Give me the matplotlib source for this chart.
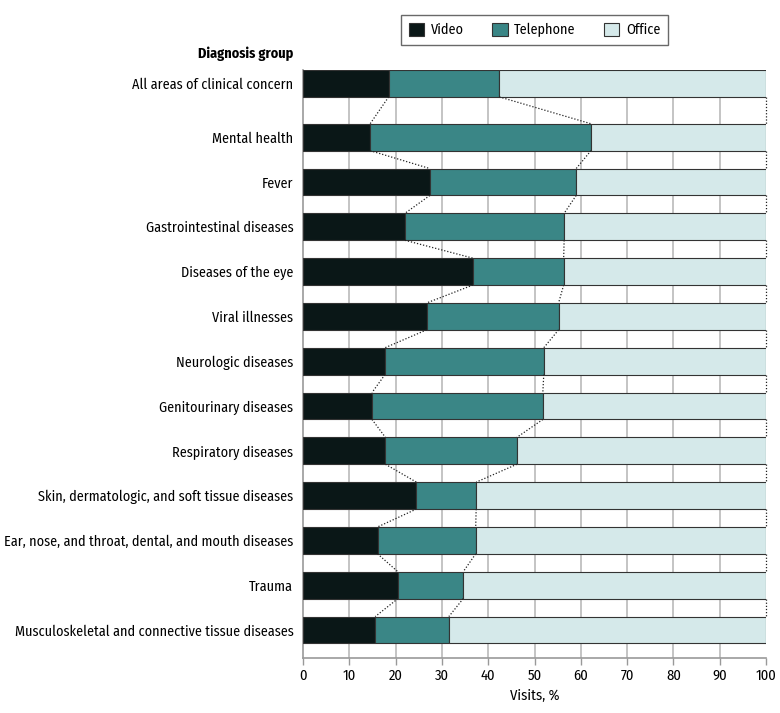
import matplotlib
matplotlib.use("Agg")
import matplotlib.pyplot as plt
from matplotlib import font_manager
from matplotlib.patches import Patch
import numpy as np

available = {f.name for f in font_manager.fontManager.ttflist}
fam = "Fira Sans Condensed" if "Fira Sans Condensed" in available else "DejaVu Sans"
plt.rcParams['font.family'] = [fam, 'DejaVu Sans']

categories = [
    "All areas of clinical concern",
    "Mental health",
    "Fever",
    "Gastrointestinal diseases",
    "Diseases of the eye",
    "Viral illnesses",
    "Neurologic diseases",
    "Genitourinary diseases",
    "Respiratory diseases",
    "Skin, dermatologic, and soft tissue diseases",
    "Ear, nose, and throat, dental, and mouth diseases",
    "Trauma",
    "Musculoskeletal and connective tissue diseases",
]
video = [18.5, 14.5, 27.4, 22.0, 36.7, 26.7, 17.7, 14.9, 17.8, 24.5, 16.1, 20.5, 15.6]
telephone = [23.9, 47.7, 31.6, 34.4, 19.6, 28.5, 34.3, 36.9, 28.4, 12.9, 21.2, 14.1, 15.9]
office = [100 - v - t for v, t in zip(video, telephone)]

series_names = ["Video", "Telephone", "Office"]
colors = ["#0a1717", "#3a8686", "#d5e9ea"]
xticks = [0, 10, 20, 30, 40, 50, 60, 70, 80, 90, 100]

FS = 10.2

fig = plt.figure(figsize=(7.8, 7.13), dpi=100)
ax = fig.add_axes([303/780, 55/713, 463/780, 588/713])

ypos = np.array([0.0] + [1.2 + i for i in range(len(categories) - 1)])
h = 0.6

left = np.zeros(len(categories))
bounds = []
for vals, col, name in zip([video, telephone, office], colors, series_names):
    vals = np.array(vals)
    ax.barh(ypos, vals, left=left, height=h, color=col, edgecolor="#333333",
            linewidth=0.8, zorder=3, label=name)
    left = left + vals
    bounds.append(left.copy())

# dotted connectors
for b in bounds:
    for i in range(len(categories) - 1):
        ax.plot([b[i], b[i + 1]], [ypos[i] + h / 2, ypos[i + 1] - h / 2],
                linestyle=(0, (1, 1.5)), color="#222222", linewidth=0.9, zorder=4,
                clip_on=False)

ax.set_xlim(0, 100)
ax.set_ylim(ypos[-1] + 0.625, -0.3)
ax.set_xticks(xticks)
ax.set_xticklabels([str(x) for x in xticks], fontsize=10.5)
ax.set_yticks(ypos)
ax.set_yticklabels(categories, fontsize=FS)
ax.tick_params(axis="y", length=0, pad=7)
ax.tick_params(axis="x", length=5, color="#999999", width=1, pad=3)
for x in xticks[1:-1]:
    ax.axvline(x, color="#c4c4c4", linewidth=1.4, zorder=1)
for s in ["top", "right"]:
    ax.spines[s].set_visible(False)
ax.spines["left"].set_color("#999999")
ax.spines["left"].set_linewidth(1.2)
ax.spines["bottom"].set_color("#999999")
ax.spines["bottom"].set_linewidth(1.2)
ax.set_xlabel("Visits, %", fontsize=10.5, labelpad=4)

fig.text(293/780, 1 - 54/713, "Diagnosis group", ha="right", va="center",
         fontsize=FS, fontweight="bold")

handles = [Patch(facecolor=c, edgecolor="#333333", linewidth=0.8, label=n)
           for c, n in zip(colors, series_names)]
leg = fig.legend(handles=handles, loc="center", bbox_to_anchor=(534.5/780, 1 - 30/713),
                 ncol=3, fontsize=FS, frameon=True, fancybox=False,
                 handlelength=1.1, handleheight=1.1, columnspacing=2.0,
                 handletextpad=0.45, borderpad=0.55, borderaxespad=0)
leg.get_frame().set_edgecolor("#444444")
leg.get_frame().set_linewidth(1.0)

fig.savefig("out.png", dpi=100)
